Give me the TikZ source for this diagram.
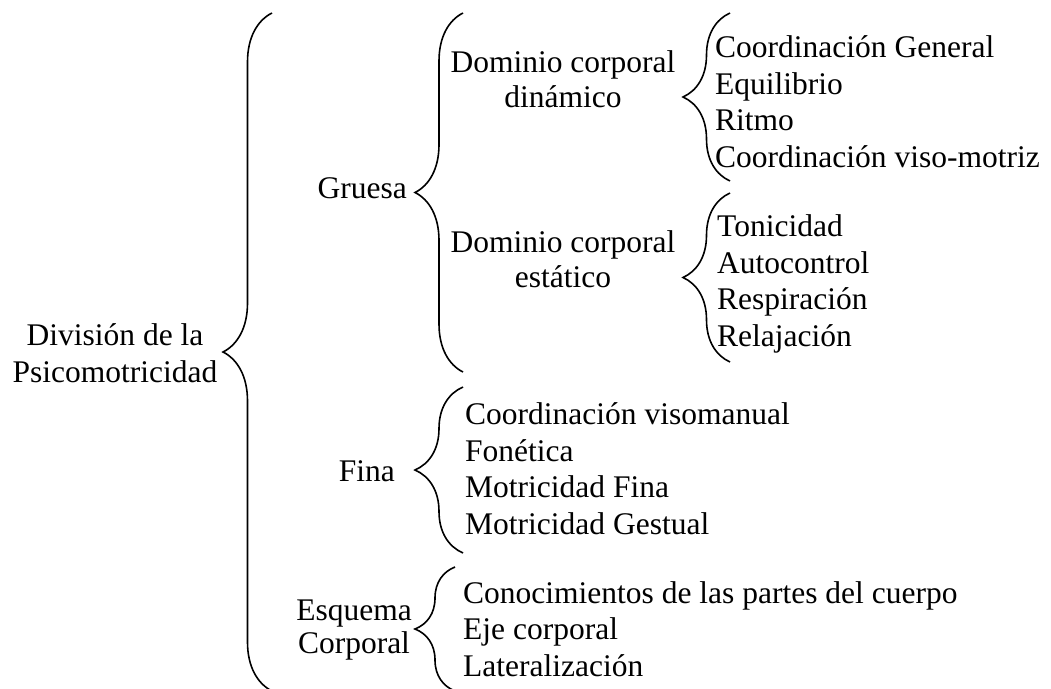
\documentclass[tikz,border=0pt]{standalone}
\usepackage{fontspec}
\setmainfont{Liberation Serif}
\usetikzlibrary{decorations.pathreplacing}

\begin{document}
\begin{tikzpicture}[x=1pt, y=-1pt,
		txt/.style={inner sep=0pt, font=\fontsize{31.5}{36.5}\selectfont},
		llave/.style={decorate, line width=1.6pt, decoration={brace, amplitude=#1}}]
	\useasboundingbox (0,0) rectangle (1051,688);

	% anchor=base queda en la ultima linea
	\node (z1)[txt, align=center, anchor=base, font=\fontsize{31.5}{37}\selectfont]
	at (115,382){
		División de la \\ Psicomotricidad
	};

	\node (z2)[txt, anchor=base east]
	at (407,198){
		Gruesa
	};

	\node (z3)[txt, align=center, anchor=base, font=\fontsize{31.5}{35}\selectfont]
	at (563,107){
		Dominio corporal \\ dinámico
	};

	\node (z4)[txt, align=center, anchor=base, font=\fontsize{31.5}{35}\selectfont]
	at (563,287){
		Dominio corporal \\ estático
	};

	\node (z5)[txt, align=left, anchor=base west]
	at (715,167){
		Coordinación General \\ Equilibrio \\ Ritmo \\ Coordinación viso-motriz
	};

	\node (z6)[txt, align=left, anchor=base west]
	at (717,346){
		Tonicidad \\ Autocontrol \\ Respiración \\ Relajación
	};

	\node (z7)[txt, anchor=base east]
	at (395,481){
		Fina
	};

	\node (z8)[txt, align=left, anchor=base west]
	at (465,534){
		Coordinación visomanual \\ Fonética \\ Motricidad Fina \\ Motricidad Gestual
	};

	\node (z9)[txt, align=center, anchor=base, font=\fontsize{31.5}{33}\selectfont]
	at (354,653){
		Esquema \\ Corporal
	};

	\node (z10)[txt, align=left, anchor=base west]
	at (463,676){
		Conocimientos de las partes del cuerpo \\ Eje corporal \\ Lateralización
	};

	% extremos de las llaves
	\coordinate (b1a) at (272,691);
	\coordinate (b1b) at (272,13);
	\coordinate (b2a) at (463,372);
	\coordinate (b2b) at (463,13);
	\coordinate (b3a) at (730,181);
	\coordinate (b3b) at (730,13);
	\coordinate (b4a) at (730,362);
	\coordinate (b4b) at (730,193);
	\coordinate (b5a) at (463,553);
	\coordinate (b5b) at (463,387);
	\coordinate (b6a) at (455,691);
	\coordinate (b6b) at (455,567);

	\draw[llave=49pt] (b1a) -- (b1b);
	\draw[llave=48pt] (b2a) -- (b2b);
	\draw[llave=47pt] (b3a) -- (b3b);
	\draw[llave=47pt] (b4a) -- (b4b);
	\draw[llave=48pt] (b5a) -- (b5b);
	\draw[llave=40pt] (b6a) -- (b6b);
\end{tikzpicture}
\end{document}
